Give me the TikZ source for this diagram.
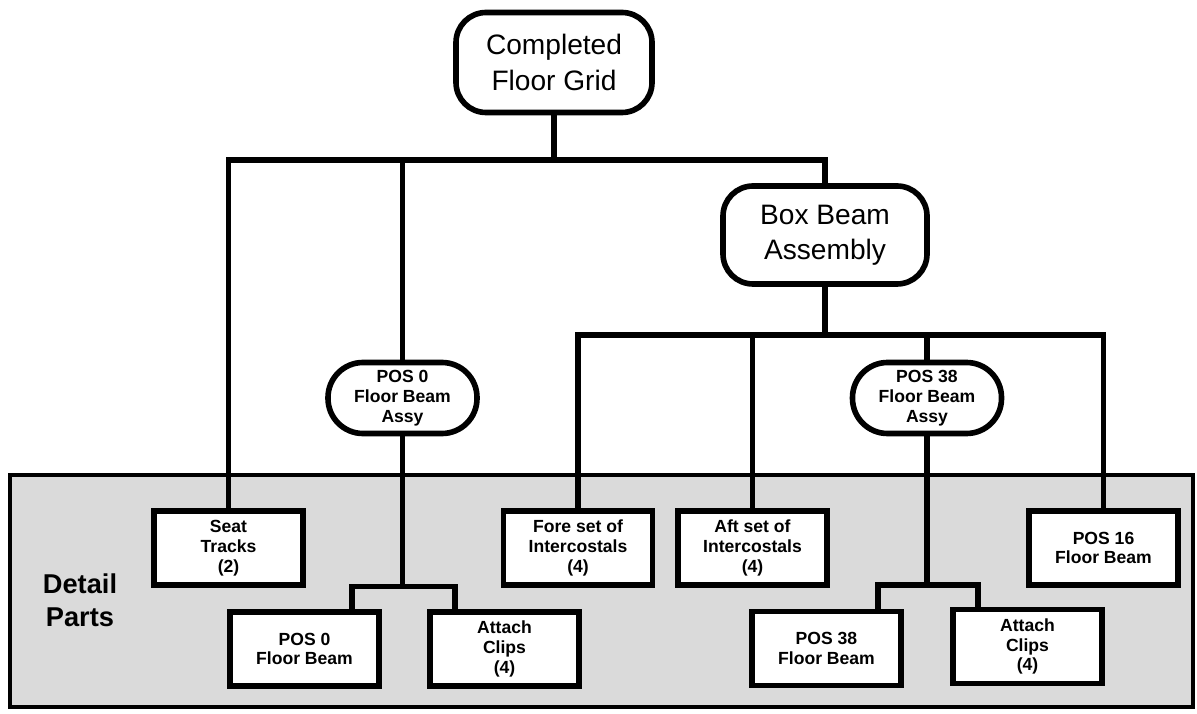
\documentclass[tikz,border=0pt]{standalone}
\usepackage{fontspec}
\setmainfont{Liberation Sans}
\usetikzlibrary{positioning,calc}
\definecolor{DetailShade}{RGB}{218,218,218}

\begin{document}
\begin{tikzpicture}[font=\bfseries\fontsize{10}{11.3}\selectfont, every node/.style={align=center}]
\tikzset{
  assybox/.style={draw, line width=3.2pt, rounded corners=0.6cm, fill=white, minimum width=3.92cm, minimum height=2cm, font=\mdseries\fontsize{16}{20}\selectfont},
  subassy/.style={draw, line width=3.2pt, rounded corners=0.7cm, fill=white, minimum width=2.98cm, minimum height=1.42cm, inner sep=1pt},
  partbox/.style={draw, line width=3.2pt, fill=white, minimum width=2.98cm, minimum height=1.48cm, inner sep=1pt},
  conn/.style={line width=3.2pt}
}
  \useasboundingbox (0,0) rectangle (23.94,14.26);
  \draw[line width=2.8pt, fill=DetailShade] (0.2,0.12) rectangle (23.86,4.76);
  \node[font=\bfseries\fontsize{15.5}{19}\selectfont] (detail) at (1.6,2.26) {Detail\\Parts};

  \node[assybox] (floor) at (11.08,13.01) {Completed\\Floor Grid};
  \node[assybox, minimum width=4.08cm, minimum height=1.96cm] (boxbeam) at (16.5,9.56) {Box Beam\\Assembly};
  \node[subassy] (pos0a) at (8.05,6.3) {POS 0\\Floor Beam\\Assy};
  \node[subassy] (pos38a) at (18.54,6.3) {POS 38\\Floor Beam\\Assy};

  \node[partbox] (seat) at (4.57,3.3) {Seat\\Tracks\\(2)};
  \node[partbox] (fore) at (11.56,3.3) {Fore set of\\Intercostals\\(4)};
  \node[partbox] (aft) at (15.05,3.3) {Aft set of\\Intercostals\\(4)};
  \node[partbox] (pos16) at (22.07,3.3) {POS 16\\Floor Beam};
  \node[partbox] (pos0fb) at (6.09,1.28) {POS 0\\Floor Beam};
  \node[partbox] (clipsa) at (10.09,1.28) {Attach\\Clips\\(4)};
  \node[partbox] (pos38fb) at (16.53,1.29) {POS 38\\Floor Beam};
  \node[partbox] (clipsb) at (20.55,1.33) {Attach\\Clips\\(4)};

  \coordinate (j1) at (11.08,11.06);
  \coordinate (j2) at (16.5,7.56);
  \coordinate (j3) at (8.05,2.53);
  \coordinate (j4) at (18.54,2.56);

  \draw[conn] (floor) -- (j1);
  \draw[conn] (seat) |- (j1) -| (boxbeam);
  \draw[conn] (pos0a) -- (pos0a |- j1);
  \draw[conn] (boxbeam) -- (j2);
  \draw[conn] (fore) |- (j2) -| (pos16);
  \draw[conn] (aft) -- (aft |- j2);
  \draw[conn] (pos38a) -- (pos38a |- j2);
  \draw[conn] (pos0a) -- (j3);
  \draw[conn] ([xshift=0.95cm]pos0fb.north) |- (j3) -| ([xshift=-0.99cm]clipsa.north);
  \draw[conn] (pos38a) -- (j4);
  \draw[conn] ([xshift=1.03cm]pos38fb.north) |- (j4) -| ([xshift=-0.99cm]clipsb.north);
\end{tikzpicture}
\end{document}
